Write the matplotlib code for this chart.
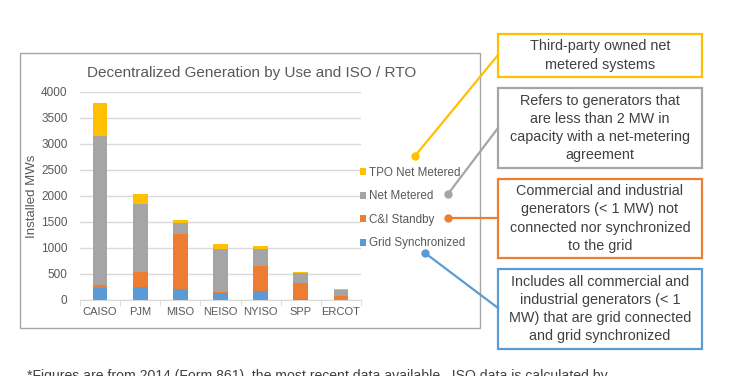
import numpy as np
import matplotlib
matplotlib.use("Agg")
import matplotlib.pyplot as plt
from matplotlib.patches import Rectangle

plt.rcParams['font.family'] = ['Liberation Sans', 'DejaVu Sans']

# data (MW)
isos = ["CAISO", "PJM", "MISO", "NEISO", "NYISO", "SPP", "ERCOT"]
grid_sync = [230, 245, 220, 135, 180, 25, 5]
ci_standby = [60, 300, 1050, 25, 470, 295, 65]
net_metered = [2860, 1300, 220, 825, 340, 205, 115]
tpo_net = [630, 190, 40, 95, 45, 20, 20]
series_names = ["Grid Synchronized", "C&I Standby", "Net Metered", "TPO Net Metered"]
series_colors = ["#5b9bd5", "#ed7d31", "#a5a5a5", "#ffc000"]
y_ticks = [0, 500, 1000, 1500, 2000, 2500, 3000, 3500, 4000]

box_texts = [
    "Third-party owned net\nmetered systems",
    "Refers to generators that\nare less than 2 MW in\ncapacity with a net-metering\nagreement",
    "Commercial and industrial\ngenerators (< 1 MW) not\nconnected nor synchronized\nto the grid",
    "Includes all commercial and\nindustrial generators (< 1\nMW) that are grid connected\nand grid synchronized",
]
footnote = "*Figures are from 2014 (Form 861), the most recent data available.  ISO data is calculated by"

W, H = 740, 376
fig = plt.figure(figsize=(W / 100, H / 100), dpi=100)


def fx(px):
    return px / W


def fy(py):
    return 1 - py / H


txt = "#595959"

# main chart
ax = fig.add_axes([fx(80), fy(300), fx(361) - fx(80), fy(92) - fy(300)])
x = np.arange(len(isos))
bottom = np.zeros(len(isos))
handles = []
for vals, name, col in zip([grid_sync, ci_standby, net_metered, tpo_net], series_names, series_colors):
    b = ax.bar(x, vals, 0.37, bottom=bottom, color=col, label=name, zorder=3)
    handles.append(b)
    bottom += np.array(vals)

ax.set_xlim(-0.5, len(isos) - 0.5)
ax.set_ylim(0, 4000)
ax.set_yticks(y_ticks)
ax.set_xticks(x)
ax.set_xticklabels(isos)
ax.set_xticks(np.arange(-0.5, len(isos)), minor=True)
ax.tick_params(axis='x', which='major', length=0, labelsize=8, colors=txt, pad=5)
ax.tick_params(axis='x', which='minor', length=4, color="#d9d9d9")
ax.tick_params(axis='y', length=0, labelsize=8.5, colors=txt, pad=9)
ax.grid(axis='y', color="#d9d9d9", linewidth=1, zorder=0)
for s in ["top", "right", "left"]:
    ax.spines[s].set_visible(False)
ax.spines["bottom"].set_color("#d9d9d9")
ax.set_ylabel("Installed MWs", fontsize=9.5, color=txt, labelpad=2)
fig.text(fx(252), fy(73), "Decentralized Generation by Use and ISO / RTO",
         ha='center', va='center', fontsize=11, color=txt)

leg = fig.legend(handles=handles[::-1], labels=series_names[::-1],
                 loc='upper left', bbox_to_anchor=(fx(360), fy(167)),
                 frameon=False, fontsize=8.4, handlelength=0.55, handleheight=0.55,
                 handletextpad=0.25, labelspacing=0.98, borderpad=0, borderaxespad=0)
for t in leg.get_texts():
    t.set_color(txt)

# overlay in pixel coords for the boxes and callouts
ov = fig.add_axes([0, 0, 1, 1], zorder=5)
ov.set_xlim(0, W)
ov.set_ylim(H, 0)
ov.axis('off')
ov.patch.set_alpha(0)

ov.add_patch(Rectangle((20, 53), 460, 275, fill=False, edgecolor="#a6a6a6", linewidth=1))

box_tops = [34, 88, 179, 269]
box_bottoms = [77, 168, 258, 349]
for t, top, bot, col in zip(box_texts, box_tops, box_bottoms, series_colors[::-1]):
    ov.add_patch(Rectangle((498, top), 204, bot - top, fill=False, edgecolor=col, linewidth=1.6))
    ov.text(600, (top + bot) / 2, t, ha='center', va='center', fontsize=10.4,
            color="#404040", linespacing=1.37)

# callout lines: (box end) -> (dot end)
callouts = [((498, 55), (415, 156)), ((498, 128), (448, 194)),
            ((498, 218), (448, 218)), ((498, 308), (425, 253))]
for (p0, p1), col in zip(callouts, series_colors[::-1]):
    ov.plot([p0[0], p1[0]], [p0[1], p1[1]], color=col, linewidth=1.6)
    ov.plot([p1[0]], [p1[1]], 'o', color=col, markersize=5)

ov.text(27, 369, footnote, ha='left', va='top', fontsize=10.1, color="#404040")

fig.savefig("out.png", dpi=100)
